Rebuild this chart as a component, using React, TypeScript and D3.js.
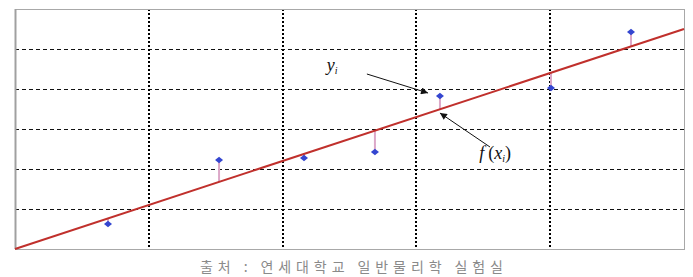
import React from "react";
import * as d3 from "d3";

const W = 693;
const H = 277;

// data (x, y) of measured points
const pointX = [0.695, 1.525, 2.16, 2.69, 3.176, 4.006, 4.604];
const pointY = [0.625, 2.225, 2.275, 2.425, 3.825, 4.025, 5.425];
// fitted line f(x) = slope * x + intercept
const slope = 1.1;
const intercept = 0;
const xTicks = [0, 1, 2, 3, 4, 5];
const yTicks = [0, 1, 2, 3, 4, 5, 6];
const footer = "출처 : 연세대학교 일반물리학 실험실";

export default function App() {
  const x = d3.scaleLinear().domain([0, 5]).range([15, 684]);
  const y = d3.scaleLinear().domain([0, 6]).range([249, 9]);
  const f = (v: number) => slope * v + intercept;
  const crisp = (v: number) => Math.round(v) + 0.5;
  const fitLine = d3
    .line<number>()
    .x((d) => x(d))
    .y((d) => y(f(d)));

  const diamond = (cx: number, cy: number) =>
    `M${cx - 4},${cy} L${cx},${cy - 3.2} L${cx + 4},${cy} L${cx},${cy + 3.2} Z`;

  return (
    <svg
      width={W}
      height={H}
      style={{ position: "absolute", left: 0, top: 0, background: "#fff" }}
    >
      <defs>
        <marker
          id="ah"
          viewBox="0 0 10 10"
          refX="10"
          refY="5"
          markerWidth="10"
          markerHeight="7"
          markerUnits="userSpaceOnUse"
          orient="auto"
        >
          <path d="M0,0 L10,5 L0,10 Z" fill="#111" />
        </marker>
      </defs>
      {/* horizontal dashed grid */}
      {yTicks.slice(1, -1).map((t) => (
        <line
          key={"h" + t}
          x1={x(0)}
          x2={x(5)}
          y1={crisp(y(t))}
          y2={crisp(y(t))}
          stroke="#111"
          strokeWidth={1}
          strokeDasharray="4,3"
        />
      ))}
      {/* vertical dotted grid */}
      {xTicks.slice(1, -1).map((t) => (
        <line
          key={"v" + t}
          x1={Math.round(x(t))}
          x2={Math.round(x(t))}
          y1={y(6)}
          y2={y(0)}
          stroke="#000"
          strokeWidth={2}
          strokeDasharray="2,2"
        />
      ))}
      {/* frame */}
      <rect
        x={crisp(x(0))}
        y={crisp(y(6))}
        width={Math.round(x(5) - x(0))}
        height={Math.round(y(0) - y(6))}
        fill="none"
        stroke="#a8a8a8"
        strokeWidth={1}
      />
      <line
        x1={crisp(x(0))}
        x2={crisp(x(0))}
        y1={y(6)}
        y2={y(0)}
        stroke="#a0a0a0"
        strokeWidth={2}
      />
      {/* residuals */}
      {pointX.map((px, i) => (
        <line
          key={"r" + i}
          x1={x(px)}
          x2={x(px)}
          y1={y(pointY[i])}
          y2={y(f(px))}
          stroke="#dca8c8"
          strokeWidth={2}
        />
      ))}
      {/* fitted line */}
      <path
        d={fitLine([0, 5]) || ""}
        fill="none"
        stroke="#c0302c"
        strokeWidth={2}
      />
      {/* points */}
      {pointX.map((px, i) => (
        <path key={"p" + i} d={diamond(x(px), y(pointY[i]))} fill="#3446d0" />
      ))}
      {/* annotations */}
      <text
        x={x(2.33)}
        y={y(4.45)}
        fontFamily="'Liberation Serif', 'DejaVu Serif', serif"
        fontStyle="italic"
        fontSize={18}
        fill="#111"
      >
        y
        <tspan fontSize={10} dy={3}>
          i
        </tspan>
      </text>
      <line
        x1={x(2.63)}
        y1={y(4.375)}
        x2={x(3.087)}
        y2={y(3.9)}
        stroke="#111"
        strokeWidth={1}
        markerEnd="url(#ah)"
      />
      <line
        x1={x(3.55)}
        y1={y(2.55)}
        x2={x(3.176)}
        y2={y(3.4)}
        stroke="#111"
        strokeWidth={1}
        markerEnd="url(#ah)"
      />
      <text
        x={x(3.47)}
        y={y(2.25)}
        fontFamily="'Liberation Serif', 'DejaVu Serif', serif"
        fontStyle="italic"
        fontSize={18}
        fill="#111"
      >
        f
        <tspan fontStyle="normal" dx={4}>(</tspan>
        <tspan>x</tspan>
        <tspan fontSize={10} dy={3}>
          i
        </tspan>
        <tspan fontStyle="normal" dy={-3}>)</tspan>
      </text>
      {/* footer */}
      <text
        x={200}
        y={272}
        textLength={303}
        lengthAdjust="spacing"
        fontFamily="'Noto Sans CJK KR', sans-serif"
        fontSize={14}
        fill="#8a8a8a"
      >
        {footer}
      </text>
    </svg>
  );
}
